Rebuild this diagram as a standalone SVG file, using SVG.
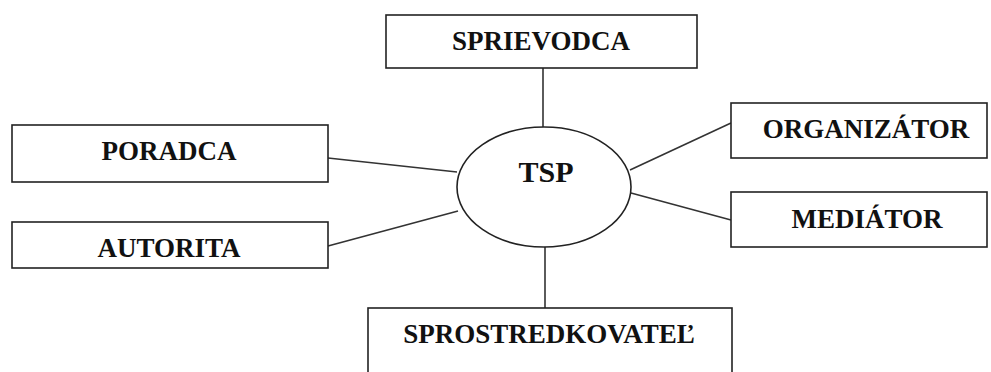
<svg xmlns="http://www.w3.org/2000/svg" width="991" height="372" viewBox="0 0 991 372">
<style>
.box{fill:#fff;stroke:#222;stroke-width:1.6}
.lbl{font-family:"Liberation Serif","Times New Roman",serif;font-weight:bold;font-size:27px;fill:#111;text-anchor:middle}
.conn line{stroke:#333;stroke-width:1.6}
</style>
<rect width="991" height="372" fill="#fff"/>
<g class="conn" id="connectors">
<line x1="543" y1="68" x2="543" y2="128"/>
<line x1="328" y1="158" x2="457" y2="172"/>
<line x1="328" y1="246" x2="458" y2="211"/>
<line x1="630" y1="170" x2="731" y2="123"/>
<line x1="631" y1="193" x2="731" y2="220"/>
<line x1="545" y1="247" x2="545" y2="308"/>
</g>
<g id="tsp"><ellipse class="box" cx="544" cy="187" rx="87" ry="60"/><text class="lbl" x="546" y="182" style="font-size:30px">TSP</text></g>
<g id="sprievodca"><rect class="box" x="386" y="15" width="311" height="53"/><text class="lbl" x="541" y="50">SPRIEVODCA</text></g>
<g id="poradca"><rect class="box" x="12" y="125" width="316" height="57"/><text class="lbl" x="169" y="160">PORADCA</text></g>
<g id="autorita"><rect class="box" x="12" y="222" width="316" height="46"/><text class="lbl" x="169" y="257">AUTORITA</text></g>
<g id="organizator"><rect class="box" x="731" y="103" width="256" height="55"/><text class="lbl" x="866" y="138">ORGANIZÁTOR</text></g>
<g id="mediator"><rect class="box" x="731" y="192" width="256" height="55"/><text class="lbl" x="867" y="228">MEDIÁTOR</text></g>
<g id="sprostredkovatel"><rect class="box" x="368" y="308" width="364" height="80"/><text class="lbl" x="549" y="343">SPROSTREDKOVATEĽ</text></g>
</svg>
